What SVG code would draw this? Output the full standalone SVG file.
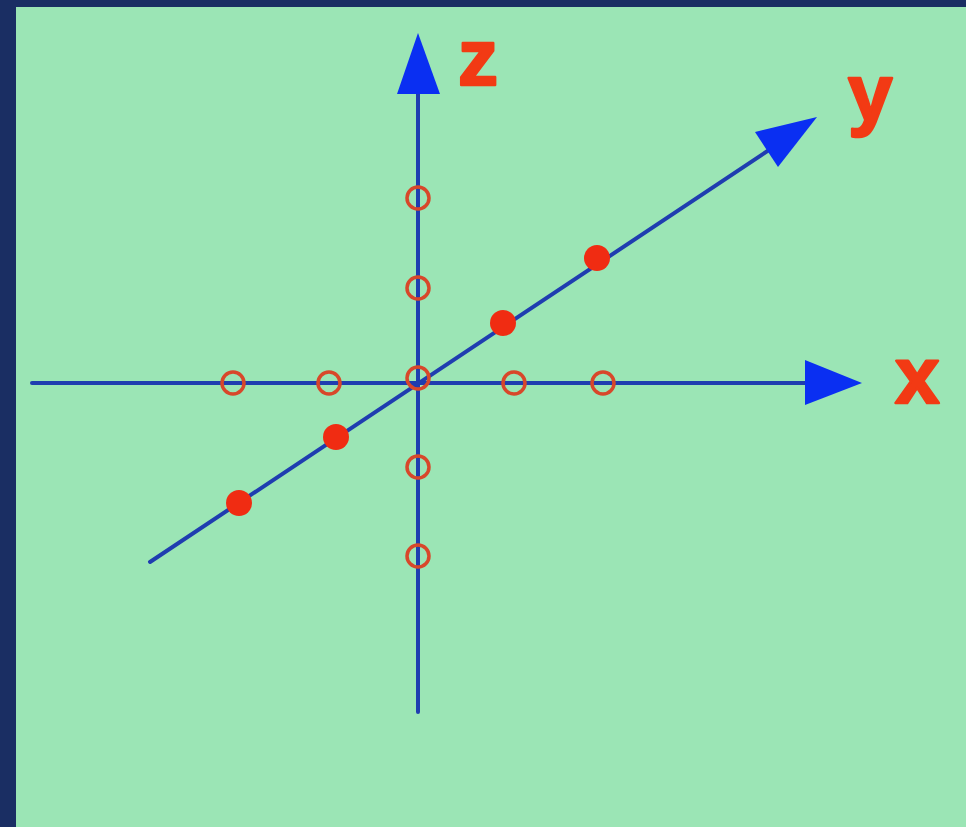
<svg xmlns="http://www.w3.org/2000/svg" width="966" height="827" viewBox="0 0 966 827">
<style>
.axis{stroke:#1f3db0;stroke-width:4;stroke-linecap:round;fill:none}
.head{fill:#0a2ff2}
.open{fill:none;stroke:#d8472a;stroke-width:3.5}
.full{fill:#f02c12}
.lbl{font-family:"Liberation Sans",Arial,sans-serif;font-weight:bold;font-size:80px;fill:#f23a14;stroke:#f23a14;stroke-width:2.5;stroke-linejoin:round}
</style>
<rect x="0" y="0" width="966" height="827" fill="#1a2e63"/>
<rect x="16" y="7" width="950" height="820" fill="#9be5b5"/>
<g id="connectors">
<line class="axis" x1="32" y1="383" x2="810" y2="383"/>
<polygon class="head" points="805,360 862,383 805,405"/>
<line class="axis" x1="418" y1="712" x2="418" y2="90"/>
<polygon class="head" points="397,94 418,33 440,94"/>
<line class="axis" x1="150" y1="562" x2="775" y2="146"/>
<polygon class="head" points="755,132 817,117 778,167"/>
</g>
<g id="x-points">
<circle class="open" cx="233" cy="383" r="11"/>
<circle class="open" cx="329" cy="383" r="11"/>
<circle class="open" cx="418" cy="378" r="11"/>
<circle class="open" cx="514" cy="383" r="11"/>
<circle class="open" cx="603" cy="383" r="11"/>
</g>
<g id="z-points">
<circle class="open" cx="418" cy="198" r="11"/>
<circle class="open" cx="418" cy="288" r="11"/>
<circle class="open" cx="418" cy="467" r="11"/>
<circle class="open" cx="418" cy="556" r="11"/>
</g>
<g id="y-points">
<circle class="full" cx="239" cy="503" r="13"/>
<circle class="full" cx="336" cy="437" r="13"/>
<circle class="full" cx="503" cy="323" r="13"/>
<circle class="full" cx="597" cy="258" r="13"/>
</g>
<g id="labels">
<text class="lbl" x="458" y="85">z</text>
<text class="lbl" x="848" y="120">y</text>
<text class="lbl" x="895" y="403">x</text>
</g>
</svg>
